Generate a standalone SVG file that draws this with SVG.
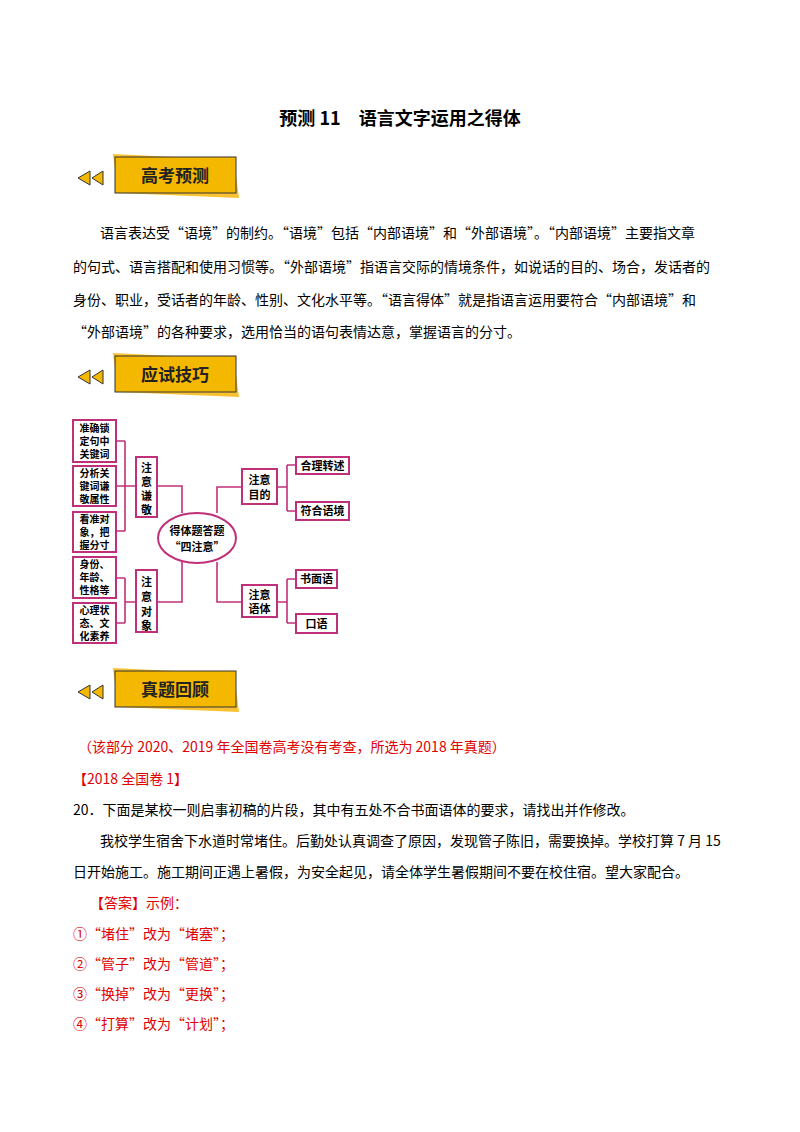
<svg xmlns="http://www.w3.org/2000/svg" width="800" height="1132" viewBox="0 0 800 1132">
<defs>
<style>
text{font-family:"Noto Sans CJK SC","Liberation Serif",serif;fill:#000}
.t{font-size:14px}
.r{fill:#e00000}
.bx{fill:#fff;stroke:#c0307a;stroke-width:2}
.ln{fill:none;stroke:#c0307a;stroke-width:1.6}
.n{font-size:11px;font-weight:bold}
.s{font-size:10px;font-weight:bold}
.bn{font-size:17px;font-weight:bold;fill:#222}
</style>
<g id="banner">
<polygon points="78,178 90,171 90,185" fill="#f5b800" stroke="#333" stroke-width="1"/>
<polygon points="92,178 103,171 103,185" fill="#f5b800" stroke="#333" stroke-width="1"/>
<polygon points="113,154 234,160 239,198 118,193" fill="#f9c232"/>
<rect x="115" y="157" width="121" height="36" fill="#f5b800" stroke="#333" stroke-width="1"/>
</g>
</defs>
<rect width="800" height="1132" fill="#fff"/>
<text x="400" y="125" text-anchor="middle" style="font-size:18px;font-weight:bold">预测 11　语言文字运用之得体</text>
<g id="b1"><use href="#banner"/><text class="bn" x="175" y="182" text-anchor="middle">高考预测</text></g>
<text class="t" x="100" y="238">语言表达受“语境”的制约。“语境”包括“内部语境”和“外部语境”。“内部语境”主要指文章</text>
<text class="t" x="73" y="272">的句式、语言搭配和使用习惯等。“外部语境”指语言交际的情境条件，如说话的目的、场合，发话者的</text>
<text class="t" x="73" y="305">身份、职业，受话者的年龄、性别、文化水平等。“语言得体”就是指语言运用要符合“内部语境”和</text>
<text class="t" x="73" y="337">“外部语境”的各种要求，选用恰当的语句表情达意，掌握语言的分寸。</text>
<g id="b2" transform="translate(0,199)"><use href="#banner"/><text class="bn" x="175" y="182" text-anchor="middle">应试技巧</text></g>
<g id="connectors">
<path class="ln" d="M116,441 H125 M116,486 H136 M116,531 H125 M125,441 V531"/>
<path class="ln" d="M157,486 H182 V513"/>
<path class="ln" d="M116,578 H125 M116,623 H125 M125,578 V623 M125,602 H136"/>
<path class="ln" d="M157,602 H182 V562"/>
<path class="ln" d="M217,513 V487 H242"/>
<path class="ln" d="M277,487 H287 M287,465 V511 M287,465 H296 M287,511 H296"/>
<path class="ln" d="M217,562 V602 H242"/>
<path class="ln" d="M277,602 H287 M287,579 V623 M287,579 H296 M287,623 H296"/>
</g>
<g id="center"><ellipse cx="197" cy="538" rx="39" ry="25" class="bx"/>
<text class="n" x="197" y="535" text-anchor="middle">得体题答题</text><text class="n" x="197" y="551" text-anchor="middle">“四注意”</text></g>
<g id="l1"><rect class="bx" x="73" y="420" width="43" height="42"/><text class="s" x="94.5" y="432" text-anchor="middle">准确锁</text><text class="s" x="94.5" y="445" text-anchor="middle">定句中</text><text class="s" x="94.5" y="458" text-anchor="middle">关键词</text></g>
<g id="l2"><rect class="bx" x="73" y="466" width="43" height="40"/><text class="s" x="94.5" y="477" text-anchor="middle">分析关</text><text class="s" x="94.5" y="490" text-anchor="middle">键词谦</text><text class="s" x="94.5" y="503" text-anchor="middle">敬属性</text></g>
<g id="l3"><rect class="bx" x="73" y="512" width="43" height="40"/><text class="s" x="94.5" y="523" text-anchor="middle">看准对</text><text class="s" x="94.5" y="536" text-anchor="middle">象，把</text><text class="s" x="94.5" y="549" text-anchor="middle">握分寸</text></g>
<g id="l4"><rect class="bx" x="73" y="557" width="43" height="41"/><text class="s" x="94.5" y="568" text-anchor="middle">身份、</text><text class="s" x="94.5" y="581" text-anchor="middle">年龄、</text><text class="s" x="94.5" y="594" text-anchor="middle">性格等</text></g>
<g id="l5"><rect class="bx" x="73" y="603" width="43" height="40"/><text class="s" x="94.5" y="614" text-anchor="middle">心理状</text><text class="s" x="94.5" y="627" text-anchor="middle">态、文</text><text class="s" x="94.5" y="640" text-anchor="middle">化素养</text></g>
<g id="qj"><rect class="bx" x="136" y="457" width="21" height="60"/><text class="n" x="146.5" y="472" text-anchor="middle">注</text><text class="n" x="146.5" y="486" text-anchor="middle">意</text><text class="n" x="146.5" y="500" text-anchor="middle">谦</text><text class="n" x="146.5" y="514" text-anchor="middle">敬</text></g>
<g id="dx"><rect class="bx" x="136" y="570" width="21" height="62"/><text class="n" x="146.5" y="586" text-anchor="middle">注</text><text class="n" x="146.5" y="601" text-anchor="middle">意</text><text class="n" x="146.5" y="616" text-anchor="middle">对</text><text class="n" x="146.5" y="630" text-anchor="middle">象</text></g>
<g id="md"><rect class="bx" x="242" y="469" width="35" height="35"/><text class="n" x="259.5" y="484" text-anchor="middle">注意</text><text class="n" x="259.5" y="499" text-anchor="middle">目的</text></g>
<g id="yt"><rect class="bx" x="242" y="585" width="35" height="32"/><text class="n" x="259.5" y="599" text-anchor="middle">注意</text><text class="n" x="259.5" y="613" text-anchor="middle">语体</text></g>
<g id="r1"><rect class="bx" x="296" y="457" width="53" height="17"/><text class="n" x="322.5" y="469.5" text-anchor="middle">合理转述</text></g>
<g id="r2"><rect class="bx" x="296" y="502" width="53" height="18"/><text class="n" x="322.5" y="515" text-anchor="middle">符合语境</text></g>
<g id="r3"><rect class="bx" x="296" y="570" width="41" height="18"/><text class="n" x="316.5" y="583" text-anchor="middle">书面语</text></g>
<g id="r4"><rect class="bx" x="296" y="614" width="41" height="19"/><text class="n" x="316.5" y="627.5" text-anchor="middle">口语</text></g>
<g id="b3" transform="translate(0,514)"><use href="#banner"/><text class="bn" x="175" y="182" text-anchor="middle">真题回顾</text></g>
<text class="t r" x="78" y="752">（该部分 2020、2019 年全国卷高考没有考查，所选为 2018 年真题）</text>
<text class="t r" x="73" y="784">【2018 全国卷 1】</text>
<text class="t" x="73" y="815">20．下面是某校一则启事初稿的片段，其中有五处不合书面语体的要求，请找出并作修改。</text>
<text class="t" x="100" y="846">我校学生宿舍下水道时常堵住。后勤处认真调查了原因，发现管子陈旧，需要换掉。学校打算 7 月 15</text>
<text class="t" x="73" y="877">日开始施工。施工期间正遇上暑假，为安全起见，请全体学生暑假期间不要在校住宿。望大家配合。</text>
<text class="t r" x="90" y="908">【答案】示例：</text>
<text class="t r" x="73" y="939">①“堵住”改为“堵塞”；</text>
<text class="t r" x="73" y="969">②“管子”改为“管道”；</text>
<text class="t r" x="73" y="999">③“换掉”改为“更换”；</text>
<text class="t r" x="73" y="1029">④“打算”改为“计划”；</text>
</svg>
